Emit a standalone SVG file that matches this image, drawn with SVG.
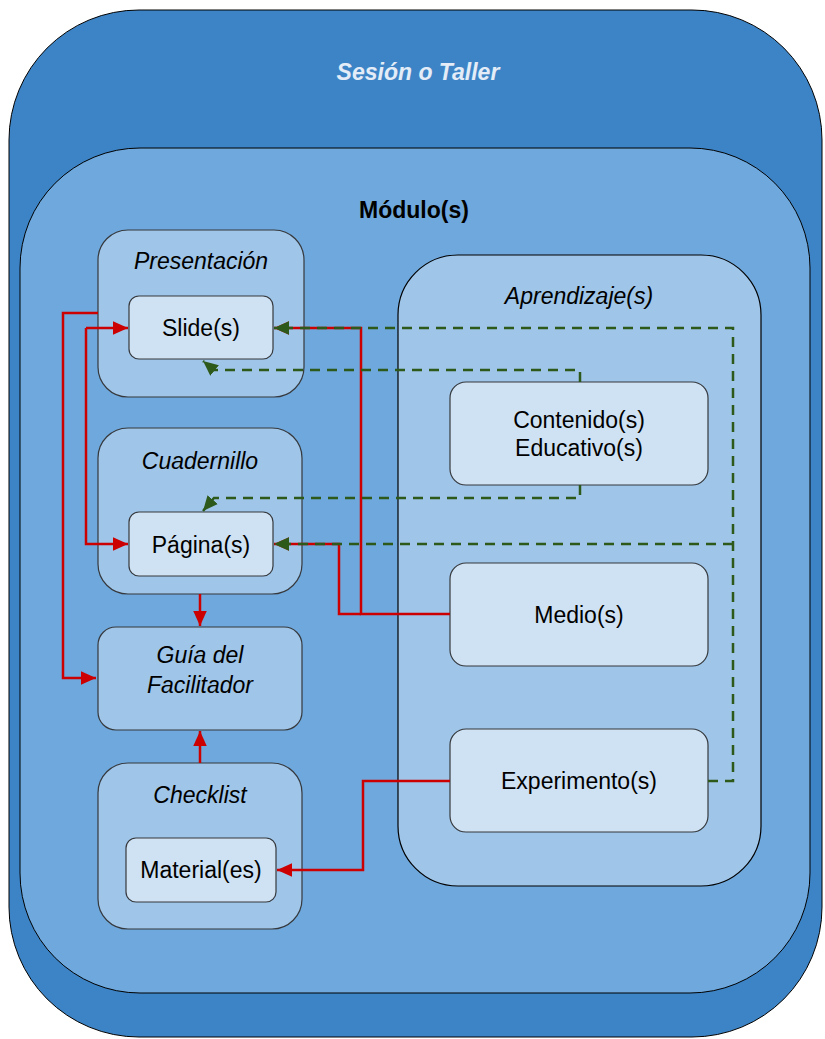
<svg xmlns="http://www.w3.org/2000/svg" width="825" height="1039" viewBox="0 0 825 1039">
<style>
text{font-family:"Liberation Sans",Arial,sans-serif;font-size:23px;text-anchor:middle;fill:#000}
.it{font-style:italic}
.b{font-weight:bold}
.grp{fill:#9FC5E8;stroke:#36393D;stroke-width:1.2}
.inner{fill:#CFE2F3;stroke:#36393D;stroke-width:1.2}
.red{fill:none;stroke:#CC0000;stroke-width:2.5}
.grn{fill:none;stroke:#2D5A1B;stroke-width:2.5;stroke-dasharray:10 7}
</style>
<defs>
<marker id="ar" viewBox="0 0 10 10" refX="10" refY="5" markerWidth="6" markerHeight="6" orient="auto" markerUnits="strokeWidth"><path d="M0,0.5 L10,5 L0,9.5 Z" fill="#CC0000"/></marker>
<marker id="ag" viewBox="0 0 10 10" refX="10" refY="5" markerWidth="6" markerHeight="6" orient="auto" markerUnits="strokeWidth"><path d="M0,0.5 L10,5 L0,9.5 Z" fill="#2D5A1B"/></marker>
</defs>
<g id="sesion">
<rect x="9" y="10" width="813" height="1027" rx="130" ry="130" fill="#3D84C6" stroke="#000" stroke-width="1"/>
<text x="418" y="80" class="it b" style="fill:#E3ECF7">Sesión o Taller</text>
</g>
<g id="modulo">
<rect x="20" y="148" width="790" height="845" rx="120" ry="120" fill="#6FA8DC" stroke="#000" stroke-width="1"/>
<text x="414" y="218" class="b">Módulo(s)</text>
</g>
<g id="presentacion">
<rect x="98" y="230" width="206" height="167" rx="30" class="grp"/>
<text x="201" y="269" class="it">Presentación</text>
</g>
<g id="slides">
<rect x="129" y="296" width="144" height="63" rx="10" class="inner"/>
<text x="201" y="336">Slide(s)</text>
</g>
<g id="cuadernillo">
<rect x="98" y="428" width="204" height="166" rx="30" class="grp"/>
<text x="200" y="469" class="it">Cuadernillo</text>
</g>
<g id="paginas">
<rect x="129" y="512" width="144" height="64" rx="10" class="inner"/>
<text x="201" y="553">Página(s)</text>
</g>
<g id="guia">
<rect x="98" y="627" width="204" height="103" rx="18" class="grp"/>
<text x="200" y="663" class="it">Guía del</text>
<text x="200" y="693" class="it">Facilitador</text>
</g>
<g id="checklist">
<rect x="98" y="763" width="204" height="166" rx="30" class="grp"/>
<text x="200" y="803" class="it">Checklist</text>
</g>
<g id="materiales">
<rect x="126" y="838" width="150" height="64" rx="10" class="inner"/>
<text x="201" y="878">Material(es)</text>
</g>
<g id="aprendizaje">
<rect x="398" y="255" width="363" height="631" rx="60" class="grp" style="stroke:#000"/>
<text x="579" y="304" class="it">Aprendizaje(s)</text>
</g>
<g id="contenido">
<rect x="450" y="382" width="258" height="103" rx="16" class="inner"/>
<text x="579" y="428">Contenido(s)</text>
<text x="579" y="456">Educativo(s)</text>
</g>
<g id="medio">
<rect x="450" y="563" width="258" height="103" rx="16" class="inner"/>
<text x="579" y="623">Medio(s)</text>
</g>
<g id="experimento">
<rect x="450" y="729" width="258" height="103" rx="16" class="inner"/>
<text x="579" y="789">Experimento(s)</text>
</g>
<g id="connectors">
<path class="red" d="M98,313 H63 V678 H96" marker-end="url(#ar)"/>
<path class="red" d="M86,328 H128" marker-end="url(#ar)"/>
<path class="red" d="M86,328 V544 H128" marker-end="url(#ar)"/>
<path class="red" d="M200,594 V626" marker-end="url(#ar)"/>
<path class="red" d="M200,763 V731" marker-end="url(#ar)"/>
<path class="red" d="M450,614 H361 V328 H274" marker-end="url(#ar)"/>
<path class="red" d="M361,614 H339 V544 H274" marker-end="url(#ar)"/>
<path class="red" d="M450,781 H363 V870 H277" marker-end="url(#ar)"/>
<path class="grn" d="M580,382 V370 H214 L203,361" marker-end="url(#ag)"/>
<path class="grn" d="M580,485 V498 H214 L203,511" marker-end="url(#ag)"/>
<path class="grn" d="M708,781 H733 V328 H274" marker-end="url(#ag)"/>
<path class="grn" d="M733,544 H274" marker-end="url(#ag)"/>
</g>
</svg>
